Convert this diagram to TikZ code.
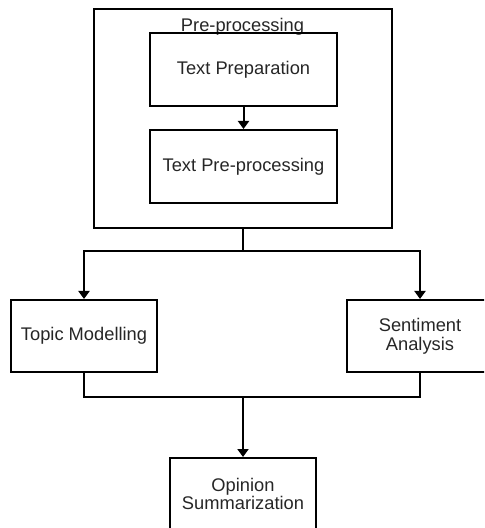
\documentclass[tikz,border=0pt]{standalone}
\usepackage{fontspec}
\setmainfont{Liberation Sans}
\usetikzlibrary{arrows.meta}

\begin{document}
\begin{tikzpicture}[x=0.5pt, y=-0.5pt, line width=1pt,
        font=\fontsize{9.15}{9.3}\selectfont,
        box/.style={draw, align=center, inner sep=0pt, text=black!85},
        wide/.style={box, minimum width=93.5pt, minimum height=36.5pt},
        small/.style={box, minimum width=73pt, minimum height=36pt},
        tip/.style={-{Triangle[width=5.5pt, length=4pt]}}]
            \useasboundingbox (0,0) rectangle (484,528);
            \clip (0,0) rectangle (484,528);
            \node (outer) [box, minimum width=149pt, minimum height=109.5pt] at (243,118.5) {};
            \node (lbl) [anchor=base, inner sep=0pt, text=black!85] at (242.5,32) {Pre-processing};
            \node (prep) [wide] at (243.5,69.5) {Text Preparation};
            \node (preproc) [wide] at (243.5,166.5) {Text Pre-processing};
            \node (topic) [small] at (84,336) {Topic Modelling};
            \node (senti) [small] at (420,336) {Sentiment\\Analysis};
            \node (opin) [small] at (243,494) {Opinion\\Summarization};
            \coordinate (split) at (243,251);
            \coordinate (join) at (243,397);

            \draw[tip] (prep) -- (preproc);
            \draw (outer.south) -- (split);
            \draw[tip] (split) -| (topic.north);
            \draw[tip] (split) -| (senti.north);
            \draw (topic.south) |- (join);
            \draw (senti.south) |- (join);
            \draw[tip] (join) -- (opin.north);
        \end{tikzpicture}
\end{document}
